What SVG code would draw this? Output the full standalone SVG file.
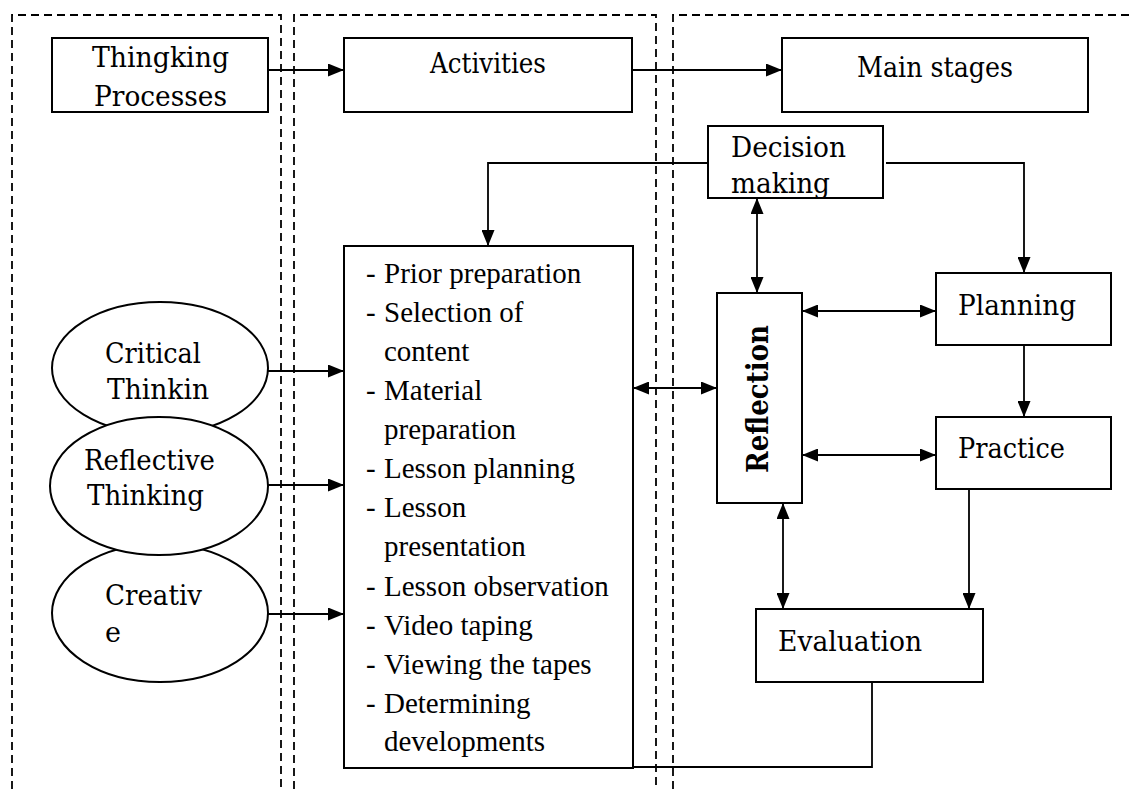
<svg xmlns="http://www.w3.org/2000/svg" width="1130" height="789" viewBox="0 0 1130 789">
<style>
.frame{fill:none;stroke:#000;stroke-width:1.8;stroke-dasharray:8 5}
.box{fill:#fff;stroke:#000;stroke-width:2}
.ell{fill:#fff;stroke:#000;stroke-width:2}
.con{fill:none;stroke:#000;stroke-width:1.8}
.arr{marker-end:url(#ah)}
.dbl{marker-start:url(#ah);marker-end:url(#ah)}
.lbl{font-family:"DejaVu Serif","Liberation Serif",serif;font-size:27px;fill:#000}
.lst{font-family:"Liberation Serif","Times New Roman",serif;font-size:29px;fill:#000}
.bold{font-weight:bold;font-size:29px}
</style>
<defs>
<marker id="ah" viewBox="0 0 16 13" markerWidth="16" markerHeight="13" refX="16" refY="6.5" markerUnits="userSpaceOnUse" orient="auto-start-reverse">
<path d="M0,0 L16,6.5 L0,13 z" fill="#000"/>
</marker>
<clipPath id="decClip"><rect x="708" y="126" width="175" height="72"/></clipPath>
</defs>
<rect width="1130" height="789" fill="#fff"/>
<g id="frames">
<path class="frame" d="M12,789 V15 H281 V789"/>
<path class="frame" d="M294,789 V15 H656 V789"/>
<path class="frame" d="M673,789 V15 H1130"/>
</g>
<g id="connectors">
<line class="con arr" x1="268" y1="70" x2="344" y2="70"/>
<line class="con arr" x1="632" y1="70" x2="782" y2="70"/>
<polyline class="con arr" points="708,163 488,163 488,246"/>
<polyline class="con arr" points="886,163 1024,163 1024,273"/>
<line class="con dbl" x1="757" y1="198" x2="757" y2="293"/>
<line class="con dbl" x1="802" y1="311" x2="936" y2="311"/>
<line class="con dbl" x1="802" y1="455" x2="936" y2="455"/>
<line class="con arr" x1="1024" y1="345" x2="1024" y2="417"/>
<line class="con dbl" x1="633" y1="388" x2="717" y2="388"/>
<line class="con dbl" x1="783" y1="503" x2="783" y2="609"/>
<line class="con arr" x1="969" y1="489" x2="969" y2="609"/>
<polyline class="con" points="872,682 872,767 633,767"/>
<line class="con arr" x1="268" y1="371" x2="344" y2="371"/>
<line class="con arr" x1="268" y1="485" x2="344" y2="485"/>
<line class="con arr" x1="268" y1="614" x2="344" y2="614"/>
</g>
<g id="thinking-processes">
<rect class="box" x="52" y="38" width="216" height="74"/>
<text class="lbl" x="92" y="67" textLength="137" lengthAdjust="spacingAndGlyphs">Thingking</text>
<text class="lbl" x="94" y="106" textLength="133" lengthAdjust="spacingAndGlyphs">Processes</text>
</g>
<g id="activities">
<rect class="box" x="344" y="38" width="288" height="74"/>
<text class="lbl" x="430" y="73" textLength="116" lengthAdjust="spacingAndGlyphs">Activities</text>
</g>
<g id="main-stages">
<rect class="box" x="782" y="38" width="306" height="74"/>
<text class="lbl" x="857" y="77" textLength="156" lengthAdjust="spacingAndGlyphs">Main stages</text>
</g>
<g id="decision-making">
<rect class="box" x="708" y="126" width="175" height="72"/>
<g clip-path="url(#decClip)">
<text class="lbl" x="731" y="157" textLength="115" lengthAdjust="spacingAndGlyphs">Decision</text>
<text class="lbl" x="731" y="193" textLength="99" lengthAdjust="spacingAndGlyphs">making</text>
</g>
<rect x="708" y="126" width="175" height="72" fill="none" stroke="#000" stroke-width="2"/>
</g>
<g id="activity-list">
<rect class="box" x="344" y="246" width="289" height="522"/>
<g class="lst">
<text x="366" y="283">-</text><text x="384" y="283">Prior preparation</text>
<text x="366" y="322">-</text><text x="384" y="322">Selection of</text>
<text x="384" y="361">content</text>
<text x="366" y="400">-</text><text x="384" y="400">Material</text>
<text x="384" y="439">preparation</text>
<text x="366" y="478">-</text><text x="384" y="478">Lesson planning</text>
<text x="366" y="517">-</text><text x="384" y="517">Lesson</text>
<text x="384" y="556">presentation</text>
<text x="366" y="596">-</text><text x="384" y="596">Lesson observation</text>
<text x="366" y="635">-</text><text x="384" y="635">Video taping</text>
<text x="366" y="674">-</text><text x="384" y="674">Viewing the tapes</text>
<text x="366" y="713">-</text><text x="384" y="713">Determining</text>
<text x="384" y="751">developments</text>
</g>
</g>
<g id="reflection">
<rect class="box" x="717" y="293" width="85" height="210"/>
<text class="lbl bold" x="768" y="399" text-anchor="middle" transform="rotate(-90 768 399)" textLength="148" lengthAdjust="spacingAndGlyphs">Reflection</text>
</g>
<g id="planning">
<rect class="box" x="936" y="273" width="175" height="72"/>
<text class="lbl" x="958" y="315" textLength="118" lengthAdjust="spacingAndGlyphs">Planning</text>
</g>
<g id="practice">
<rect class="box" x="936" y="417" width="175" height="72"/>
<text class="lbl" x="958" y="458" textLength="107" lengthAdjust="spacingAndGlyphs">Practice</text>
</g>
<g id="evaluation">
<rect class="box" x="756" y="609" width="227" height="73"/>
<text class="lbl" x="778" y="651" textLength="144" lengthAdjust="spacingAndGlyphs">Evaluation</text>
</g>
<g id="critical-thinking">
<ellipse class="ell" cx="160" cy="368" rx="108" ry="66"/>
<text class="lbl" x="105" y="363" textLength="96" lengthAdjust="spacingAndGlyphs">Critical</text>
<text class="lbl" x="107" y="399" textLength="102" lengthAdjust="spacingAndGlyphs">Thinkin</text>
</g>
<g id="creative">
<ellipse class="ell" cx="160" cy="613" rx="108" ry="69"/>
<text class="lbl" x="105" y="605" textLength="97" lengthAdjust="spacingAndGlyphs">Creativ</text>
<text class="lbl" x="105" y="642">e</text>
</g>
<g id="reflective-thinking">
<ellipse class="ell" cx="159" cy="486" rx="109" ry="69"/>
<text class="lbl" x="84" y="470" textLength="131" lengthAdjust="spacingAndGlyphs">Reflective</text>
<text class="lbl" x="87" y="505" textLength="117" lengthAdjust="spacingAndGlyphs">Thinking</text>
</g>
</svg>
